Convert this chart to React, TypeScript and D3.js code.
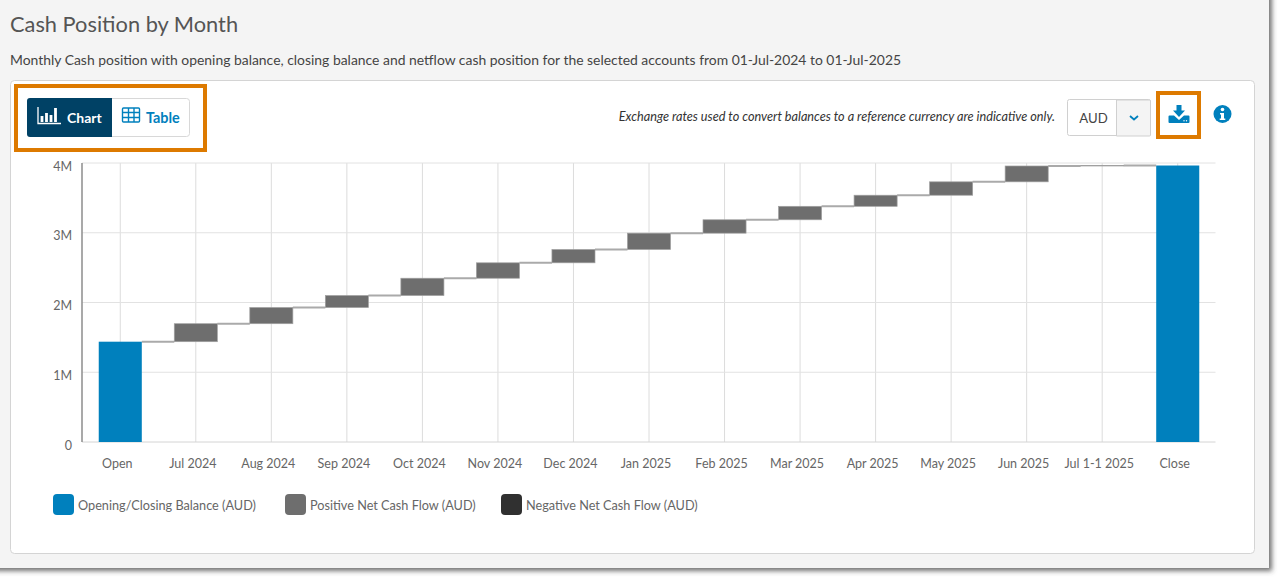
import React from "react";
import * as d3 from "d3";

const categories = ["Open","Jul 2024","Aug 2024","Sep 2024","Oct 2024","Nov 2024","Dec 2024","Jan 2025","Feb 2025","Mar 2025","Apr 2025","May 2025","Jun 2025","Jul 1-1 2025","Close"];
const openingBalance = 1.438;
const netFlows = [0.258,0.232,0.172,0.248,0.221,0.191,0.234,0.192,0.193,0.159,0.192,0.227,0.007];
const yTicks = [0,1,2,3,4];
const legendItems = [
  { label: "Opening/Closing Balance (AUD)", color: "#0080bd", x: 53 },
  { label: "Positive Net Cash Flow (AUD)", color: "#6e6e6e", x: 285 },
  { label: "Negative Net Cash Flow (AUD)", color: "#303030", x: 501 },
];
const FONT = "Lato, sans-serif";

export default function App() {
  const x = d3.scaleBand<string>().domain(categories).range([82.5, 1215.5]).paddingInner(0.43).paddingOuter(0.215);
  const y = d3.scaleLinear().domain([0, 4]).range([442, 163]);
  const bw = x.bandwidth();
  const cx = (c: string) => (x(c) as number) + bw / 2;

  let running = openingBalance;
  const flows = netFlows.map((f, i) => {
    const start = running;
    running += f;
    return { cat: categories[i + 1], start, end: running };
  });
  const closing = running;
  const levels = [openingBalance, ...flows.map((f) => f.end)];

  return (
    <div style={{ position: "fixed", left: 0, top: 0, width: 1280, height: 581, background: "#fff" }}>
      <svg width={1280} height={581} style={{ display: "block", fontFamily: FONT }}>
        <defs>
          <filter id="sh" x="-2%" y="-2%" width="104%" height="104%">
            <feDropShadow dx="3" dy="3" stdDeviation="2.5" floodColor="#444" floodOpacity="0.75" />
          </filter>
        </defs>
        <rect x={-10} y={-10} width={1279} height={578} fill="#f4f4f4" filter="url(#sh)" />
        <text x={10} y={32} fontSize={21.8} fill="#555">Cash Position by Month</text>
        <text x={10} y={65} fontSize={13.92} fill="#444">Monthly Cash position with opening balance, closing balance and netflow cash position for the selected accounts from 01-Jul-2024 to 01-Jul-2025</text>

        <rect x={10.5} y={80.5} width={1244} height={473} rx={4} fill="#fff" stroke="#d4d4d4" />

        {/* Chart / Table toggle */}
        <rect x={16} y={86} width={189} height={64} fill="#fff" stroke="#dd7a00" strokeWidth={4} />
        <rect x={27.5} y={98.5} width={162} height={38} rx={3} fill="#fff" stroke="#d8d8d8" />
        <path d="M30 98h82v39H30a3 3 0 0 1-3-3v-33a3 3 0 0 1 3-3z" fill="#004165" />
        <g stroke="#fff" fill="none">
          <path d="M38 107v16.5H61" strokeWidth={1.3} />
          <path d="M42 122v-6M46.500 122v-9M51 122v-7M55.500 122v-14" strokeWidth={2.8} />
        </g>
        <text x={67} y={122.5} fontSize={14} fontWeight={700} fill="#fff">Chart</text>
        <g stroke="#0080bd" fill="none" strokeWidth={1.4}>
          <rect x={122.5} y={108} width={17} height={14} rx={1} />
          <path d="M122.500 112.500h17M122.500 117.500h17M128.500 108v14M134 108v14" />
        </g>
        <text x={146} y={122.5} fontSize={14.4} fontWeight={700} fill="#0080bd">Table</text>

        {/* Controls */}
        <text x={1055} y={121} textAnchor="end" fontSize={12.7} fontStyle="italic" fill="#333">Exchange rates used to convert balances to a reference currency are indicative only.</text>
        <rect x={1067.5} y={99.5} width={83} height={36} rx={2} fill="#fff" stroke="#d0d0d0" />
        <path d="M1116.500 100h33a1 1 0 0 1 1 1v34a1 1 0 0 1-1 1h-33z" fill="#f4f4f4" stroke="#d0d0d0" />
        <text x={1093.5} y={122.5} textAnchor="middle" fontSize={13.2} fill="#444">AUD</text>
        <path d="M1130 116l4 3.500 4-3.500" fill="none" stroke="#0080bd" strokeWidth={1.8} />
        <rect x={1158} y={93} width={41} height={44} fill="#fff" stroke="#dd7a00" strokeWidth={4} />
        <path d="M1176.500 105h5v5.500h3.500l-6 6.500-6-6.500h3.500z" fill="#0080bd" />
        <path d="M1169.500 115.500h4.500l5 4.500 5-4.500h4.500q1 0 1 1v5.500q0 1-1 1h-19q-1 0-1-1v-5.500q0-1 1-1z" fill="#0080bd" />
        <circle cx={1184} cy={120.8} r={0.7} fill="#fff" />
        <circle cx={1186.500} cy={120.8} r={0.7} fill="#fff" />
        <circle cx={1222.5} cy={114} r={9} fill="#0080bd" />
        <circle cx={1222.5} cy={109.5} r={1.8} fill="#fff" />
        <path d="M1220 113h4v5.500h1.300v1.500h-5.600v-1.500h1.300v-4h-1z" fill="#fff" />

        {/* Grid */}
        {categories.map((c) => (
          <line key={c} x1={cx(c)} x2={cx(c)} y1={163} y2={442} stroke="#dcdcdc" />
        ))}
        {yTicks.map((t) => (
          <line key={t} x1={82} x2={1215.5} y1={y(t)} y2={y(t)} stroke={t === 0 ? "#d4d4d4" : "#e2e2e2"} />
        ))}
        <line x1={82} x2={82} y1={163} y2={442} stroke="#8c8c8c" strokeWidth={1.5} />

        {/* Connectors */}
        {levels.map((v, i) => (
          <line key={i} x1={(x(categories[i]) as number) + bw} x2={x(categories[i + 1]) as number} y1={y(v)} y2={y(v)} stroke="#aaaaaa" strokeWidth={2} />
        ))}

        {/* Bars */}
        <rect x={x("Open")} y={y(openingBalance)} width={bw} height={y(0) - y(openingBalance)} fill="#0080bd" />
        {flows.map((f) => (
          <rect key={f.cat} x={x(f.cat)} y={y(f.end)} width={bw} height={y(f.start) - y(f.end)} fill="#6e6e6e" stroke="#a0a0a0" strokeWidth={0.7} />
        ))}
        <rect x={x("Close")} y={y(closing)} width={bw} height={y(0) - y(closing)} fill="#0080bd" />

        {/* Axis labels */}
        {yTicks.map((t) => (
          <text key={t} x={72} y={y(t) + 7.5} textAnchor="end" fontSize={12.5} fill="#666">{t === 0 ? "0" : `${t}M`}</text>
        ))}
        {categories.map((c) => (
          <text key={c} x={cx(c) - 3} y={467.5} textAnchor="middle" fontSize={12.5} fill="#666">{c}</text>
        ))}

        {/* Legend */}
        {legendItems.map((l) => (
          <g key={l.label}>
            <rect x={l.x} y={494} width={21} height={21} rx={4} fill={l.color} />
            <text x={l.x + 25} y={509.5} fontSize={12.7} fill="#666">{l.label}</text>
          </g>
        ))}
      </svg>
    </div>
  );
}
